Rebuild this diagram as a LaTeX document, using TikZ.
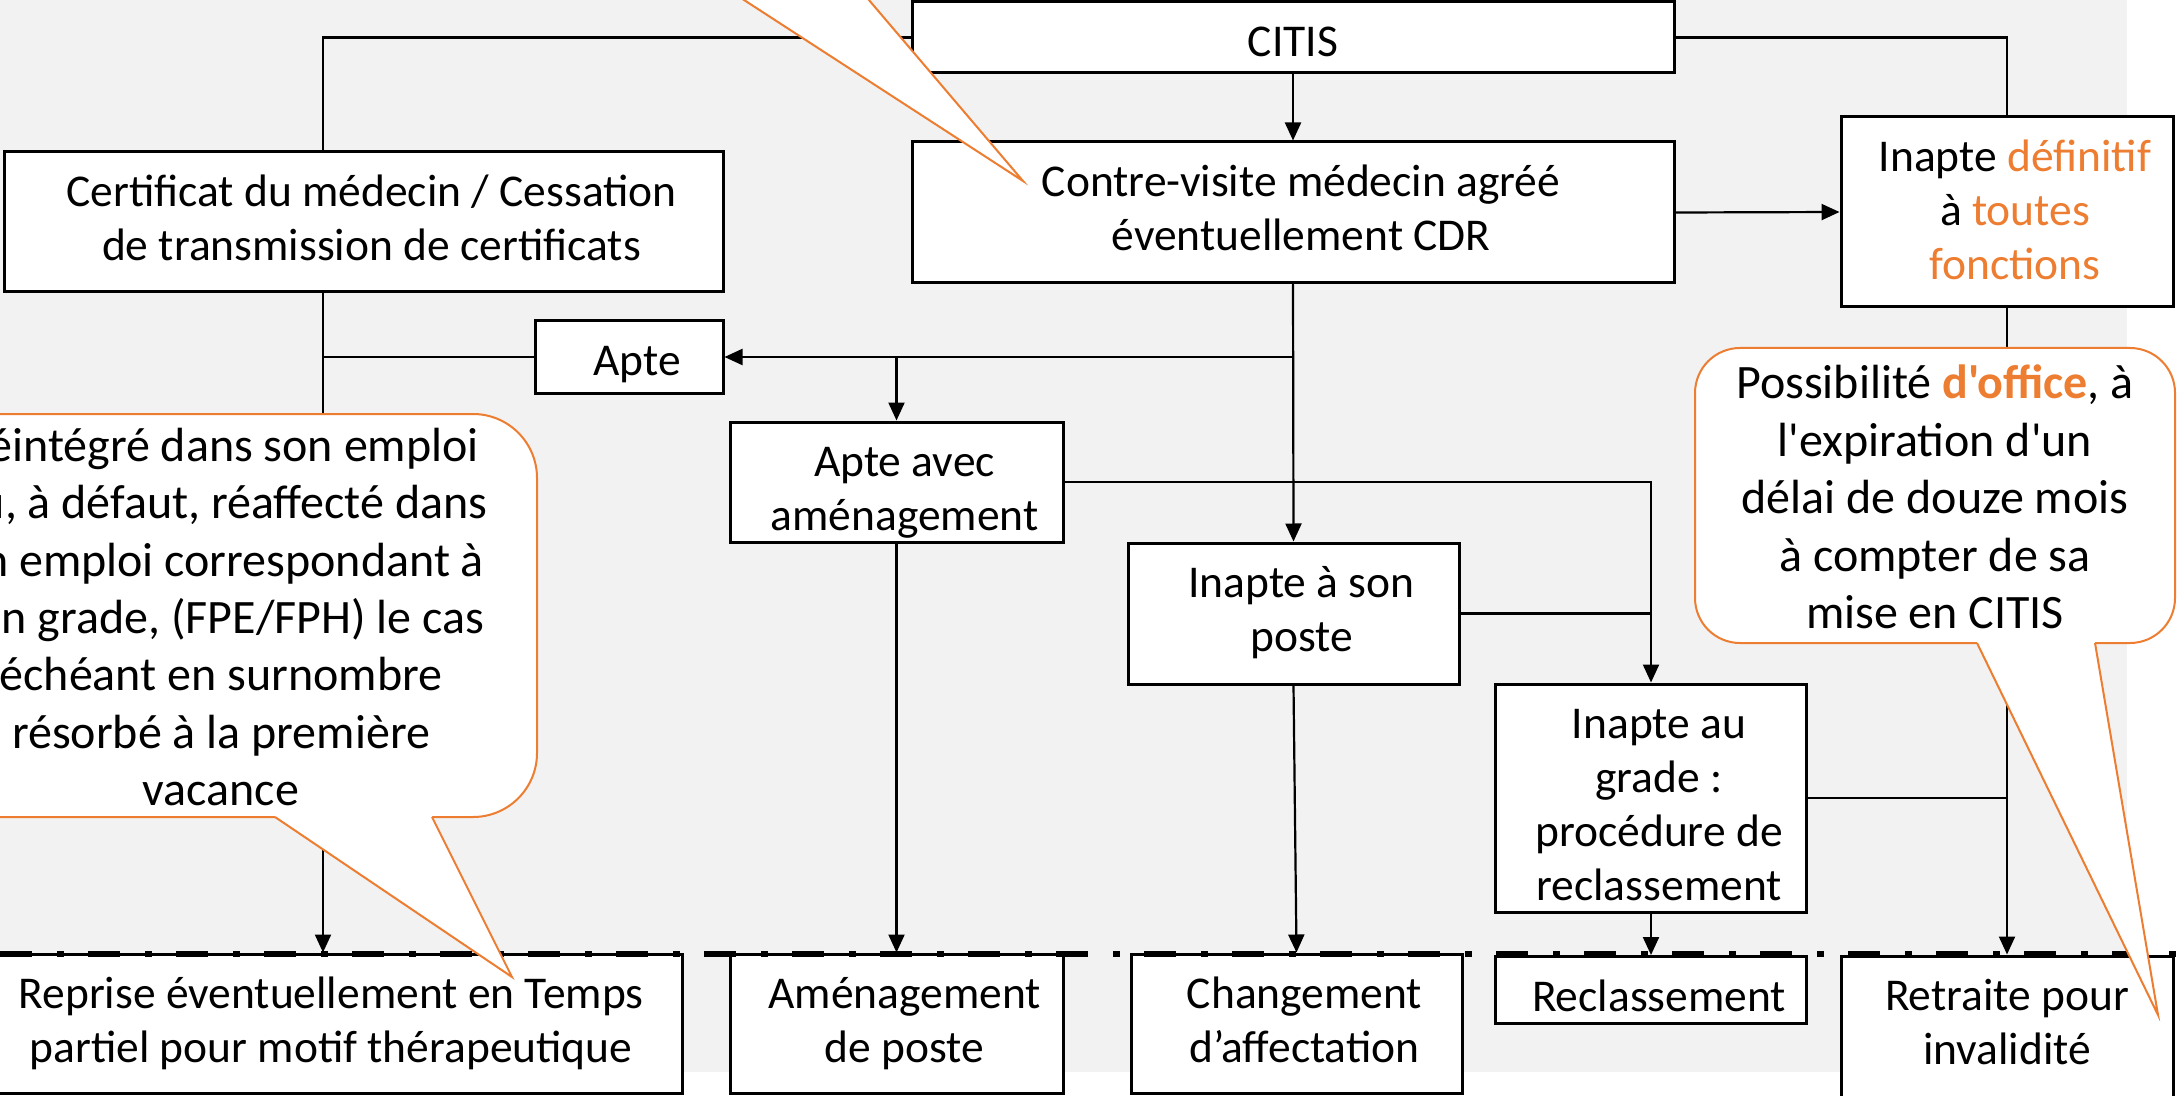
\documentclass[tikz,border=0pt]{standalone}
\usepackage{fontspec}
\usetikzlibrary{arrows.meta}
\newfontfamily\carl{Carlito}
\newcommand\myboxfont{\carl\fontsize{22.75}{27}\selectfont}
\newcommand\mycallfont{\carl\fontsize{24}{28.7}\selectfont}
\newcommand\tl[2][8pt]{\begin{tabular}[t]{@{\hspace{#1}}c@{}}#2\end{tabular}}
\definecolor{orng}{RGB}{237,125,49}
\definecolor{bgg}{RGB}{242,242,242}
\tikzset{
  stepbox/.style={draw=black, line width=1.5pt, fill=white, inner sep=0pt, text height=27.3pt, font=\myboxfont},
  calltxt/.style={align=center, inner sep=0pt, font=\mycallfont},
  conn/.style={draw=black, line width=1.1pt},
  arr/.style={conn, -{Triangle[length=9pt,width=8pt]}},
  callborder/.style={draw=orng, line width=1pt, line join=miter},
}
\begin{document}
\begin{tikzpicture}[x=0.5pt,y=-0.5pt]
\useasboundingbox (0,0) rectangle (2177,1096);
\clip (0,0) rectangle (2177,1096);
\fill[white] (0,0) rectangle (2177,1096);
\fill[bgg] (0,0) rectangle (2127,1072);

% boxes
\node[stepbox, minimum width=381pt, text depth=8.2pt] (citis) at (1293,37.5) {\tl[0pt]{CITIS}};
\node[stepbox, minimum width=381pt, text depth=43.2pt] (cv) at (1293,212.5) {\tl{Contre-visite médecin agréé\\éventuellement CDR}};
\node[stepbox, minimum width=359.5pt, text depth=42.7pt] (cert) at (363.5,222) {\tl{Certificat du médecin / Cessation\\de transmission de certificats}};
\node[stepbox, minimum width=166pt, text depth=67.7pt] (idef) at (2007,212) {\tl{Inapte \textcolor{orng}{définitif}\\à \textcolor{orng}{toutes}\\\textcolor{orng}{fonctions}}};
\node[stepbox, minimum width=94pt, text depth=8.7pt] (apte) at (629,357) {\tl{Apte}};
\node[stepbox, minimum width=166.5pt, text depth=32.7pt] (aam) at (896.5,482) {\tl{Apte avec\\aménagement}};
\node[stepbox, minimum width=165.5pt, text depth=43.2pt] (ison) at (1293.5,613.5) {\tl{Inapte à son\\poste}};
\node[stepbox, minimum width=155.5pt, text depth=86.7pt] (igrade) at (1651,798) {\tl{Inapte au\\grade :\\procédure de\\reclassement}};
\node[stepbox, minimum width=347pt, text depth=42.2pt] (reprise) at (335,1023.5) {\tl[-4pt]{Reprise éventuellement en Temps\\partiel pour motif thérapeutique}};
\node[stepbox, minimum width=166.5pt, text depth=42.2pt] (amgt) at (896.5,1023.5) {\tl{Aménagement\\de poste}};
\node[stepbox, minimum width=165.5pt, text depth=42.2pt] (chg) at (1296.5,1023.5) {\tl{Changement\\d’affectation}};
\node[stepbox, minimum width=155.5pt, text depth=6.2pt] (recl) at (1651,990) {\tl{Reclassement}};
\node[stepbox, minimum width=166pt, text depth=49.7pt] (retr) at (2007,1033) {\tl[0pt]{Retraite pour\\invalidité}};

% dash-dot separator
\draw[line width=3pt, dash pattern=on 16pt off 12.5pt on 3.5pt off 12pt] (0,954) -- (2177,954);

% connectors
\coordinate (lx) at (323,0);
\draw[conn] (citis.west) -| (lx |- cert.north);
\draw[conn] (citis.east) -| (idef.north);
\draw[arr] (citis.south) -- (cv.north);
\draw[arr] (cv.east) -- (idef.west);
\draw[arr] (cv.south) |- (apte.east);
\draw[arr] (aam.north |- apte.east) -- (aam.north);
\draw[arr] (cv.south) -- (ison.north);
\draw[conn] (apte.west) -- (lx |- apte.west);
\draw[arr] (lx |- cert.south) -- (lx |- reprise.north);
\draw[arr] (aam.east) -| (igrade.north);
\draw[conn] (ison.east) -- (igrade.north |- ison.east);
\draw[arr] (aam.south) -- (amgt.north);
\draw[arr] (ison.south) -- (chg.north);
\draw[arr] (igrade.south) -- (recl.north);
\draw[conn] (igrade.east) -- (idef.south |- igrade.east);
\draw[arr] (idef.south) -- (retr.north);

% top callout pointer (body outside the picture)
\fill[white] (728.6,-10) -- (1023,181) -- (860.4,-10) -- cycle;
\draw[callborder] (728.6,-10) -- (1023,181) -- (860.4,-10);

% left callout
\filldraw[callborder, fill=white, rounded corners=32pt] (-95,414) rectangle (537,817);
\fill[white] (275,810) -- (275,817) -- (512,977) -- (432,817) -- (432,810) -- cycle;
\draw[callborder] (275,817) -- (512,977) -- (432,817);
\node[calltxt] (lcall) at (221,617) {Réintégré dans son emploi\\ou, à défaut, réaffecté dans\\un emploi correspondant à\\son grade, (FPE/FPH) le cas\\échéant en surnombre\\résorbé à la première\\vacance};

% right callout
\filldraw[callborder, fill=white, rounded corners=22.5pt] (1695,348) rectangle (2175,643);
\fill[white] (1977,636) -- (1977,643) -- (2158,1015) -- (2095,643) -- (2095,636) -- cycle;
\draw[callborder] (1977,643) -- (2158,1015) -- (2095,643);
\node[calltxt] (rcall) at (1935,497) {Possibilité \textcolor{orng}{\bfseries d'office}, à\\l'expiration d'un\\délai de douze mois\\à compter de sa\\mise en CITIS};
\end{tikzpicture}
\end{document}
